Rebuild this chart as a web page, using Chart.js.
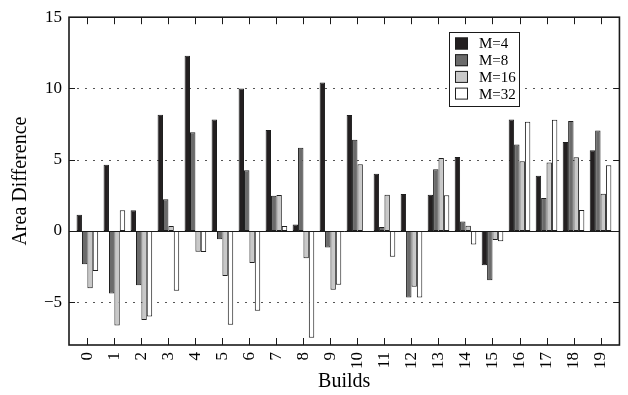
<!DOCTYPE html>
<html>
<head>
<meta charset="utf-8">
<script src="https://cdn.jsdelivr.net/npm/chart.js@4/dist/chart.umd.min.js"></script>
<style>
  html, body { margin: 0; padding: 0; background: #fff; }
  #wrap { width: 628px; height: 395px; position: relative; }
</style>
</head>
<body>
<div id="wrap"><canvas id="chart"></canvas></div>
<script>
'use strict';

/* ---- Data ---- */
const builds = [0, 1, 2, 3, 4, 5, 6, 7, 8, 9, 10, 11, 12, 13, 14, 15, 16, 17, 18, 19];
const m4  = [1.14, 4.64, 1.46, 8.16, 12.29, 7.83, 9.99, 7.09, 0.46, 10.41, 8.14, 4.01, 2.60, 2.55, 5.19, -2.41, 7.83, 3.87, 6.24, 5.66];
const m8  = [-2.34, -4.38, -3.80, 2.23, 6.93, -0.58, 4.27, 2.48, 5.84, -1.16, 6.40, 0.28, -4.66, 4.33, 0.67, -3.45, 6.07, 2.32, 7.72, 7.05];
const m16 = [-4.01, -6.63, -6.24, 0.35, -1.46, -3.15, -2.25, 2.53, -1.92, -4.13, 4.68, 2.55, -3.92, 5.12, 0.37, -0.63, 4.89, 4.80, 5.17, 2.62];
const m32 = [-2.80, 1.46, -6.00, -4.20, -1.48, -6.58, -5.59, 0.35, -7.49, -3.78, -0.03, -1.81, -4.66, 2.50, -0.95, -0.72, 7.67, 7.81, 1.48, 4.61];
const seriesLabels = ['M=4', 'M=8', 'M=16', 'M=32'];
const yTicks = [-5, 0, 5, 10, 15];

const FONT = '"Liberation Serif", "Times New Roman", serif';
const FILLS = ['#231f20', '#6b6b6b', '#c8c8c8', '#ffffff'];
const EDGE = '#1e1e1e';

Chart.defaults.font.family = FONT;
Chart.defaults.color = '#000';

function toPoints(vals) {
  return builds.map((b, i) => ({ x: b, y: vals[i] }));
}

/* ---- Frame, dotted grid, inward ticks, zero line, legend ---- */
const framePlugin = {
  id: 'frame',
  beforeDatasetsDraw(chart) {
    const { ctx, chartArea: a, scales: { y } } = chart;
    ctx.save();
    ctx.strokeStyle = '#555';
    ctx.lineWidth = 1;
    ctx.setLineDash([2, 6]);
    for (const v of yTicks) {
      if (v === 0 || v === 15) continue;
      const py = Math.round(y.getPixelForValue(v)) + 0.5;
      ctx.beginPath();
      ctx.moveTo(a.left, py);
      ctx.lineTo(a.right, py);
      ctx.stroke();
    }
    ctx.restore();
  },
  afterDatasetsDraw(chart) {
    const { ctx, chartArea: a, scales: { x, y } } = chart;
    ctx.save();
    ctx.strokeStyle = '#1a1a1a';

    // zero line
    ctx.lineWidth = 1;
    const y0 = Math.round(y.getPixelForValue(0)) + 0.5;
    ctx.beginPath();
    ctx.moveTo(a.left, y0);
    ctx.lineTo(a.right, y0);
    ctx.stroke();

    // inward ticks
    ctx.lineWidth = 1;
    for (const b of builds) {
      const px = Math.round(x.getPixelForValue(b)) + 0.5;
      ctx.beginPath();
      ctx.moveTo(px, a.bottom); ctx.lineTo(px, a.bottom - 7);
      ctx.moveTo(px, a.top); ctx.lineTo(px, a.top + 7);
      ctx.stroke();
    }
    for (const v of yTicks) {
      const py = Math.round(y.getPixelForValue(v)) + 0.5;
      ctx.beginPath();
      ctx.moveTo(a.left, py); ctx.lineTo(a.left + 6, py);
      ctx.moveTo(a.right, py); ctx.lineTo(a.right - 6, py);
      ctx.stroke();
    }

    // frame
    ctx.lineWidth = 1.6;
    ctx.strokeRect(a.left, a.top, a.right - a.left, a.bottom - a.top);

    // legend
    const lx = 449, ly = 32, lw = 70, lh = 74;
    ctx.fillStyle = '#fff';
    ctx.fillRect(lx, ly, lw, lh);
    ctx.lineWidth = 1;
    ctx.strokeRect(lx + 0.5, ly + 0.5, lw, lh);
    ctx.font = '15px ' + FONT;
    ctx.textBaseline = 'middle';
    chart.data.datasets.forEach((ds, i) => {
      const cy = 43.5 + i * 16.7;
      ctx.fillStyle = ds.backgroundColor;
      ctx.fillRect(455, cy - 6, 13, 12);
      ctx.strokeStyle = EDGE;
      ctx.strokeRect(455.5, cy - 5.5, 12, 11);
      ctx.fillStyle = '#000';
      ctx.fillText(ds.label, 479, cy + 1);
    });
    ctx.restore();
  }
};

const datasets = [m4, m8, m16, m32].map((vals, i) => ({
  label: seriesLabels[i],
  data: toPoints(vals),
  backgroundColor: FILLS[i],
  borderColor: EDGE,
  borderWidth: 1,
  borderSkipped: false,
  categoryPercentage: 0.8,
  barPercentage: 1.0,
}));

new Chart(document.getElementById('chart'), {
  type: 'bar',
  data: { datasets },
  plugins: [framePlugin],
  options: {
    responsive: true,
    maintainAspectRatio: false,
    animation: false,
    layout: { padding: { top: 14, right: 2, left: 0, bottom: 0 } },
    plugins: {
      legend: { display: false },
      tooltip: { enabled: false },
    },
    scales: {
      x: {
        type: 'linear',
        min: -0.68,
        max: 19.7,
        offset: false,
        grid: { display: false, drawTicks: false },
        border: { display: false },
        ticks: {
          stepSize: 1,
          includeBounds: false,
          autoSkip: false,
          minRotation: 90,
          maxRotation: 90,
          padding: 7,
          color: '#000',
          font: { size: 17, family: FONT },
        },
        title: {
          display: true,
          text: 'Builds',
          color: '#000',
          font: { size: 20, family: FONT },
          padding: { top: 0, bottom: 1 },
        },
        afterFit(scale) { scale.height = 50; },
      },
      y: {
        min: -8,
        max: 15,
        grid: { display: false, drawTicks: false },
        border: { display: false },
        ticks: {
          stepSize: 5,
          includeBounds: false,
          padding: 7,
          color: '#000',
          font: { size: 17, family: FONT },
          callback: v => String(v).replace('-', '\u2212'),
        },
        title: {
          display: true,
          text: 'Area Difference',
          color: '#000',
          font: { size: 20, family: FONT },
          padding: { top: 9, bottom: 0 },
        },
        afterFit(scale) { scale.width = 69; },
      },
    },
  },
});
</script>
</body>
</html>
